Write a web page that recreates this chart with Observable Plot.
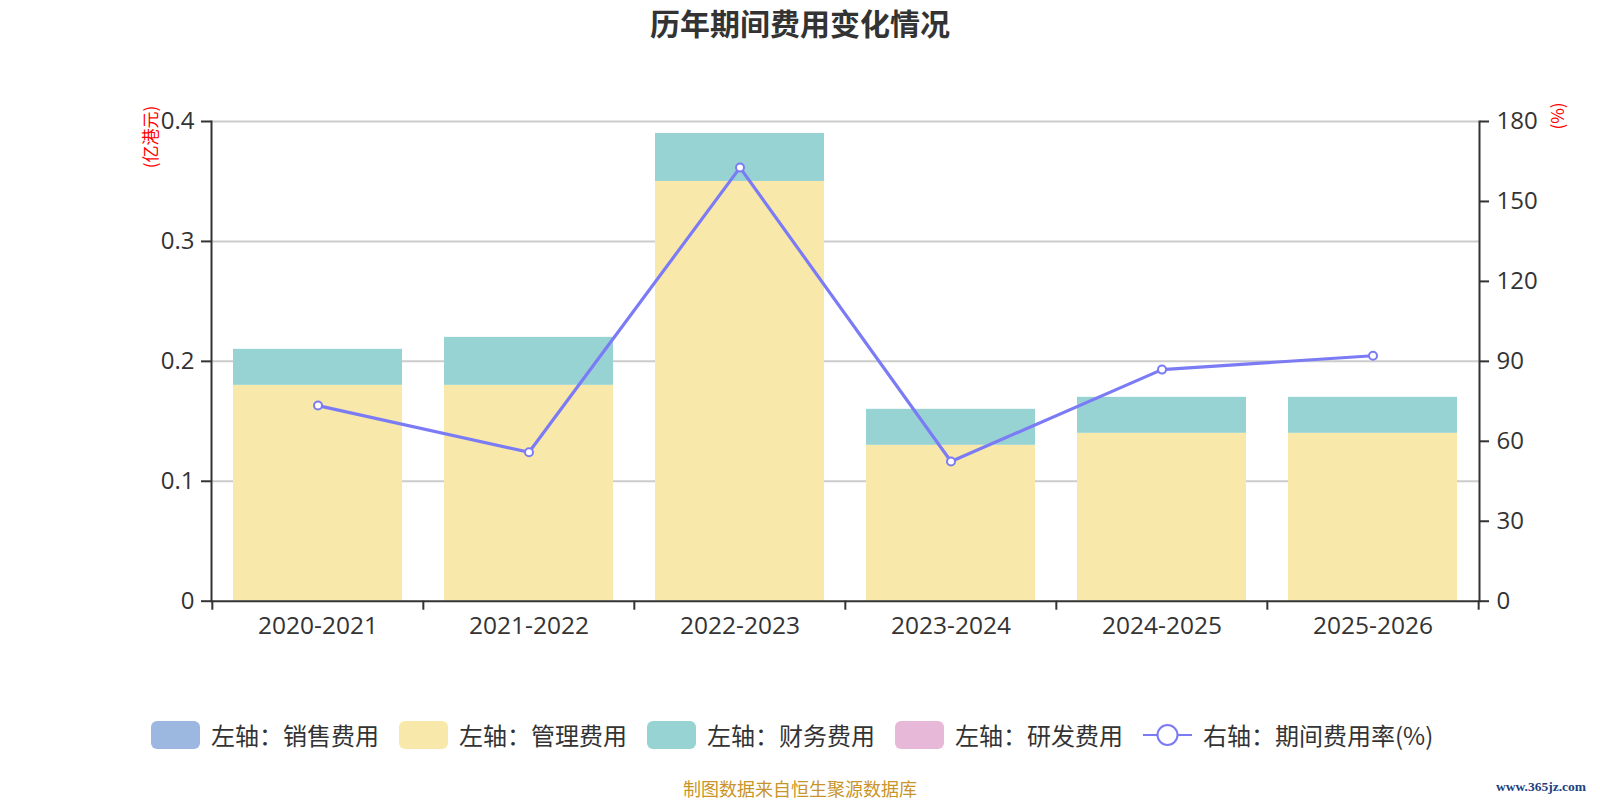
<!DOCTYPE html>
<html><head><meta charset="utf-8">
<script src="https://cdn.jsdelivr.net/npm/d3@7"></script>
<script src="https://cdn.jsdelivr.net/npm/@observablehq/plot@0.6"></script>
<style>
body{margin:0;background:#fff;font-family:'Open Sans','Noto Sans CJK SC',sans-serif;}
#wrap{position:relative;width:1600px;height:800px;overflow:hidden;}
#chart{position:absolute;left:0;top:0;}
#title{position:absolute;left:0;top:7px;width:1600px;text-align:center;font-size:30px;line-height:31px;font-weight:bold;color:#333;font-family:'Noto Sans CJK SC',sans-serif;}
.ylab{position:absolute;color:#ff0000;font-size:17px;white-space:nowrap;transform:translate(-50%,-50%) rotate(-90deg);font-family:'Noto Sans CJK SC',sans-serif;}
#legend{position:absolute;left:151px;top:721px;display:flex;align-items:center;height:28px;}
.item{display:flex;align-items:center;margin-right:20px;}
.sw{width:49px;height:28px;border-radius:6px;margin-right:11px;}
.lt{font-size:24px;line-height:28px;color:#333;font-family:'Noto Sans CJK SC',sans-serif;white-space:nowrap;}
#caption{position:absolute;left:0;width:1600px;top:778px;text-align:center;font-size:18px;line-height:20px;color:#c9952b;font-family:'Noto Sans CJK SC',sans-serif;}
#wm{position:absolute;right:14px;top:778px;font-size:13.5px;line-height:17px;font-weight:bold;color:#1c3f7f;font-family:'Liberation Serif',serif;}
</style></head><body>
<div id="wrap">
  <div id="chart"></div>
  <div id="title">历年期间费用变化情况</div>
  <div class="ylab" style="left:148.7px;top:136.5px;">(亿港元)</div>
  <div class="ylab" style="left:1555.7px;top:116px;">(%)</div>
  <div id="legend"></div>
  <div id="caption">制图数据来自恒生聚源数据库</div>
  <div id="wm">www.365jz.com</div>
</div>
<script>
const categories = ["2020-2021","2021-2022","2022-2023","2023-2024","2024-2025","2025-2026"];
const seriesNames = ["左轴：销售费用","左轴：管理费用","左轴：财务费用","左轴：研发费用"];
const seriesColors = ["#9cb8e1","#f8e8aa","#98d3d4","#e8b8d8"];
const salesExpense = [0,0,0,0,0,0];
const adminExpense = [0.18,0.18,0.35,0.13,0.14,0.14];
const financeExpense = [0.03,0.04,0.04,0.03,0.03,0.03];
const rdExpense = [0,0,0,0,0,0];
const expenseRate = [73.4,55.9,162.7,52.4,86.9,92.1];
const rateName = "右轴：期间费用率(%)";
const rateColor = "#7b7bf5";
const leftTicks = [0,0.1,0.2,0.3,0.4];
const rightTicks = [0,30,60,90,120,150,180];

const seriesValues = [salesExpense, adminExpense, financeExpense, rdExpense];
const rows = [];
categories.forEach((c,i)=>{
  seriesNames.forEach((s,j)=>{
    rows.push({category:c, series:s, value:seriesValues[j][i]});
  });
});
const k = leftTicks[leftTicks.length-1] / rightTicks[rightTicks.length-1];
const rateRows = categories.map((c,i)=>({category:c, rate:expenseRate[i]}));

const W = 1600, H = 660, mL = 211, mR = 121, mT = 121, mB = 59.3;
const step = (W - mL - mR) / categories.length;

const chart = Plot.plot({
  width: W, height: H,
  marginLeft: mL, marginRight: mR, marginTop: mT, marginBottom: mB,
  style: {fontFamily: "'Open Sans','Noto Sans CJK SC',sans-serif", fontSize: "24px", color: "#333", background: "transparent"},
  x: {domain: categories, paddingInner: 0.2, paddingOuter: 0.1, axis: null, label: null},
  y: {domain: [0, 0.4], axis: null, label: null},
  color: {domain: seriesNames, range: seriesColors},
  marks: [
    Plot.gridY(leftTicks.filter(v => v > 0), {stroke: "#cccccc", strokeOpacity: 1, strokeWidth: 2}),
    Plot.barY(rows, {x: "category", y: "value", fill: "series", order: seriesNames, inset: 0}),
    Plot.frame({anchor: "left", stroke: "#333", strokeWidth: 2}),
    Plot.frame({anchor: "right", stroke: "#333", strokeWidth: 2}),
    Plot.ruleY([0], {stroke: "#333", strokeWidth: 2}),
    Plot.axisY({anchor: "left", ticks: leftTicks, tickFormat: d => String(+d.toFixed(2)), tickSize: 10, tickPadding: 7, label: null, fontSize: 24, strokeWidth: 2}),
    Plot.axisY({anchor: "right", ticks: rightTicks.map(v => v * k), tickFormat: v => String(Math.round(v / k)), tickSize: 9, tickPadding: 8, label: null, fontSize: 24, strokeWidth: 2}),
    Plot.axisX({tickSize: 0, tickPadding: 15, label: null, fontSize: 24.5}),
    Plot.axisX(categories, {tickSize: 9, text: null, label: null, dx: -step / 2, strokeWidth: 2}),
    Plot.axisX([categories[categories.length-1]], {tickSize: 9, text: null, label: null, dx: step / 2, strokeWidth: 2}),
    Plot.line(rateRows, {x: "category", y: d => d.rate * k, stroke: rateColor, strokeWidth: 3.2}),
    Plot.dot(rateRows, {x: "category", y: d => d.rate * k, r: 4, fill: "white", stroke: rateColor, strokeWidth: 2})
  ]
});
document.getElementById("chart").appendChild(chart);

const legend = document.getElementById("legend");
seriesNames.forEach((s,j)=>{
  const it = document.createElement("div"); it.className = "item";
  it.innerHTML = `<div class="sw" style="background:${seriesColors[j]}"></div><span class="lt">${s}</span>`;
  legend.appendChild(it);
});
const li = document.createElement("div"); li.className = "item";
li.innerHTML = `<svg width="49" height="28" style="margin-right:11px"><line x1="0" x2="49" y1="14" y2="14" stroke="${rateColor}" stroke-width="2"/><circle cx="24.5" cy="14" r="10" fill="white" stroke="${rateColor}" stroke-width="2"/></svg><span class="lt">${rateName}</span>`;
legend.appendChild(li);
</script>
</body></html>
